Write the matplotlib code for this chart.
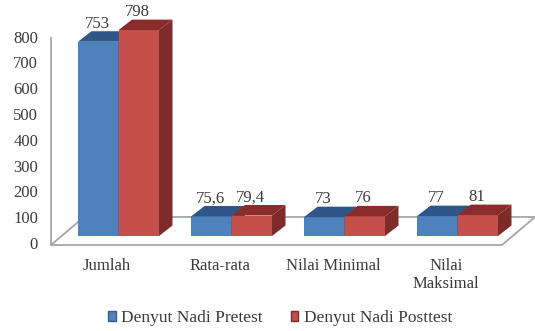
import matplotlib
matplotlib.use('Agg')
import matplotlib.pyplot as plt
from matplotlib.patches import Polygon, Patch

categories = ['Jumlah', 'Rata-rata', 'Nilai Minimal', 'Nilai\nMaksimal']
pretest = [753, 75.6, 73, 77]
posttest = [798, 79.4, 76, 81]
pretest_labels = ['753', '75,6', '73', '77']
posttest_labels = ['798', '79,4', '76', '81']
yticks = [0, 100, 200, 300, 400, 500, 600, 700, 800]
series_names = ['Denyut Nadi Pretest', 'Denyut Nadi Posttest']

W, H = 535, 331
BASE_PX = 236       # pixel row of value 0 on the bar fronts
PX_PER_UNIT = 0.258
GROUP_PX = 113
CENTER_PX = 118.5   # pixel column of the first group centre
FONT = 12

# 1 category = GROUP_PX pixels, so sizes below are written in pixels and divided
def dx(px):
    return px / GROUP_PX

def dy(px):
    return px / PX_PER_UNIT

BAR_W = dx(40.5)
DEPTH_X = dx(13.5)
DEPTH_Y = dy(10.5)

BLUE = ('#4f81bd', '#2f5688', '#385d8a')
RED = ('#c4504c', '#8a2c2b', '#7f2b2a')
TEXT = '#3a3a3a'
FLOOR = '#a6a6a6'


def draw_box(ax, left, height, colors, z):
    front, top, side = colors
    right = left + BAR_W
    ax.add_patch(Polygon([(left, 0), (right, 0), (right, height), (left, height)],
                         fc=front, ec='none', zorder=z))
    ax.add_patch(Polygon([(left, height), (right, height),
                          (right + DEPTH_X, height + DEPTH_Y), (left + DEPTH_X, height + DEPTH_Y)],
                         fc=top, ec='none', zorder=z))
    ax.add_patch(Polygon([(right, 0), (right + DEPTH_X, DEPTH_Y),
                          (right + DEPTH_X, height + DEPTH_Y), (right, height)],
                         fc=side, ec='none', zorder=z))


plt.rcParams['font.family'] = ['Liberation Serif', 'DejaVu Serif']

fig = plt.figure(figsize=(W / 100, H / 100), dpi=100)
ax = fig.add_axes([0, 0, 1, 1])
ax.set_xlim(-dx(CENTER_PX), dx(W - CENTER_PX))
ax.set_ylim(-dy(H - BASE_PX), dy(BASE_PX))
ax.axis('off')

# floor and value axis
front_y = -dy(9)
back_y = dy(19)
left_x = dx(51 - CENTER_PX)
right_x = dx(502 - CENTER_PX)
floor_dx = dx(33)
ax.add_patch(Polygon([(left_x, front_y), (right_x, front_y),
                      (right_x + floor_dx, back_y), (left_x + floor_dx, back_y)],
                     fc='white', ec=FLOOR, lw=1.3, zorder=1))
ax.plot([left_x, left_x], [front_y, dy(BASE_PX - 38)], color=FLOOR, lw=1.3, zorder=1)

for tick in yticks:
    ax.text(dx(38 - CENTER_PX), tick - dy(9), str(tick), ha='right', va='center',
            fontsize=FONT, color=TEXT)

for i in range(len(categories)):
    draw_box(ax, i - BAR_W, pretest[i], BLUE, 3)
    draw_box(ax, i, posttest[i], RED, 4)
    ax.text(i - BAR_W / 2 - dx(1), pretest[i] + dy(18), pretest_labels[i], ha='center',
            va='center', fontsize=FONT, color=TEXT, zorder=6)
    ax.text(i + BAR_W / 2 - dx(1), posttest[i] + dy(18), posttest_labels[i], ha='center',
            va='center', fontsize=FONT, color=TEXT, zorder=6)
    ax.text(i - dx(11.5), -dy(22), categories[i], ha='center', va='top',
            fontsize=FONT, color=TEXT, linespacing=1.15)

handles = [Patch(fc=BLUE[0], ec=BLUE[2]), Patch(fc=RED[0], ec=RED[2])]
ax.legend(handles, series_names, loc='center', bbox_to_anchor=(280 / W, 1 - 318 / H),
          bbox_transform=fig.transFigure, ncol=2, frameon=False, fontsize=12.5,
          labelcolor=TEXT, handlelength=0.45, handleheight=0.5, handletextpad=0.3,
          columnspacing=1.6, borderpad=0)

fig.savefig('out.png', dpi=100)
